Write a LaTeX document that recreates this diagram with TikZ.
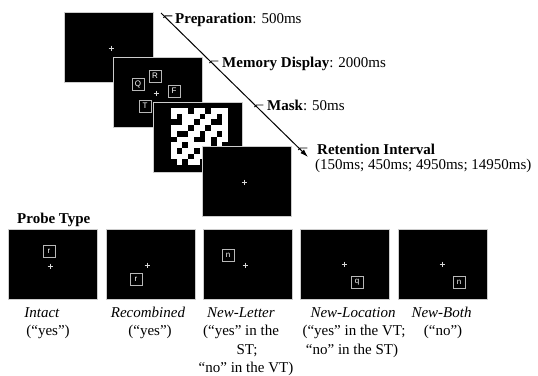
\documentclass[tikz,border=0pt]{standalone}
\usepackage{fontspec}
\setmainfont{Liberation Serif}
\newfontfamily\boxfont{Liberation Sans}
\usetikzlibrary{arrows.meta,calc}

\begin{document}
\begin{tikzpicture}[x=1pt,y=-1pt,
  screen/.style={fill=black, draw=white!80!black, line width=0.6pt,
    minimum width=89pt, minimum height=70pt, inner sep=0pt},
  lbox/.style={draw=white!72!black, line width=0.7pt, minimum size=12pt,
    inner sep=0pt, text=white, font=\boxfont\fontsize{8}{9}\selectfont},
  txt/.style={inner sep=0pt, font=\fontsize{15}{18}\selectfont},
  tick/.style={line width=0.9pt},
  fixcross/.pic={\draw[white!85!black, line width=0.6pt]
    (-2.5,0) -- (2.5,0) (0,-2.5) -- (0,2.5);}]
\useasboundingbox (0,0) rectangle (538,375);
\fill[white] (0,0) rectangle (538,375);

% trial sequence: overlapping screens
\node[screen] (s1) at (109,47.5) {};
\pic at (111,48) {fixcross};

\node[screen] (s2) at (158,92) {};
\pic at (156,93) {fixcross};
\node[lbox] (bq) at (138,84) {Q};
\node[lbox] (br) at (155,76) {R};
\node[lbox] (bf) at (174,91) {F};
\node[lbox] (bt) at (145,106) {T};

\node[screen] (s3) at (197.5,137) {};
% random mask, 1 = white cell
\foreach \row [count=\r from 0] in {
  {1,1,1,0,1,1,0,1,1,1},
  {1,0,1,1,1,0,1,1,0,1},
  {0,0,1,1,0,1,1,0,0,1},
  {1,1,1,0,1,1,0,1,1,1},
  {1,0,0,1,1,0,1,1,0,1},
  {0,1,1,1,0,0,1,0,1,1},
  {1,1,0,1,1,1,1,0,1,0},
  {1,0,1,1,0,1,0,1,1,1},
  {1,1,1,0,1,1,1,0,0,1},
  {0,1,0,1,1,0,1,1,1,0}}{
  \foreach \c [count=\k from 0] in \row {
    \ifnum\c=1 \fill[white] (171+\k*5.7,108+\r*5.7) rectangle ++(5.7,5.7);\fi
  }
}

\node[screen] (s4) at (246.5,181) {};
\pic at (244,182) {fixcross};

% timeline arrow with ticks
\coordinate (a0) at (161,13);
\coordinate (a1) at (308,157);
\draw[line width=1pt, -{Latex[length=8pt,width=5pt]}] (a0) -- (a1);
\foreach \t/\nm in {0.02/tp, 0.333/tm, 0.639/tk, 0.9375/tr}{
  \coordinate (\nm) at ($(a0)!\t!(a1)$);
  \draw[tick] ($(\nm)+(-0.5,2)$) -- ($(\nm)+(1.5,0)$) -- ($(\nm)+(8.5,0)$);
}

\node[txt, anchor=base west] (lp) at (175,23) {\textbf{Preparation}: 500ms};
\node[txt, anchor=base west] (lm) at (222,67) {\textbf{Memory Display}: 2000ms};
\node[txt, anchor=base west] (lk) at (267,110) {\textbf{Mask}: 50ms};
\node[txt, anchor=base west] (lr) at (317,154) {\textbf{Retention Interval}};
\node[txt, anchor=base west] (lr2) at (315,169) {(150ms; 450ms; 4950ms; 14950ms)};

% probe displays
\node[txt, anchor=base west] (pt) at (17,223) {\textbf{Probe Type}};

\node[screen] (p1) at (52.5,264) {};
\pic at (50,266) {fixcross};
\node[lbox] (p1b) at (49,251) {r};

\node[screen] (p2) at (150.5,264) {};
\pic at (147,265) {fixcross};
\node[lbox] (p2b) at (136,279) {r};

\node[screen] (p3) at (248,264) {};
\pic at (245,265) {fixcross};
\node[lbox] (p3b) at (228,255) {n};

\node[screen] (p4) at (345,264) {};
\pic at (344,264) {fixcross};
\node[lbox] (p4b) at (357,282) {q};

\node[screen] (p5) at (442.5,264) {};
\pic at (442,264) {fixcross};
\node[lbox] (p5b) at (459,282) {n};

% probe captions
\node[txt, anchor=base] (c1a) at (42,317) {\textit{Intact}};
\node[txt, anchor=base] (c1b) at (48,335.5) {(“yes”)};
\node[txt, anchor=base] (c2a) at (148,317) {\textit{Recombined}};
\node[txt, anchor=base] (c2b) at (150,335.5) {(“yes”)};
\node[txt, anchor=base] (c3a) at (241,317) {\textit{New-Letter}};
\node[txt, anchor=base] (c3b) at (241,335.5) {(“yes” in the};
\node[txt, anchor=base] (c3c) at (247,354) {ST;};
\node[txt, anchor=base] (c3d) at (246,372) {“no” in the VT)};
\node[txt, anchor=base] (c4a) at (353,317) {\textit{New-Location}};
\node[txt, anchor=base] (c4b) at (354,335.5) {(“yes” in the VT;};
\node[txt, anchor=base] (c4c) at (352,354) {“no” in the ST)};
\node[txt, anchor=base] (c5a) at (441.5,317) {\textit{New-Both}};
\node[txt, anchor=base] (c5b) at (443,335.5) {(“no”)};
\end{tikzpicture}
\end{document}
